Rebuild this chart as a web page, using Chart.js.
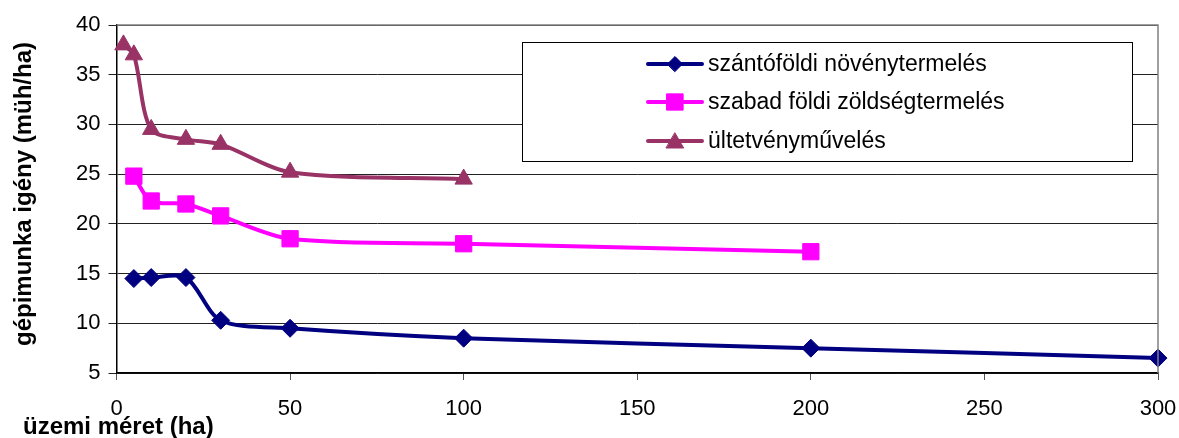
<!DOCTYPE html>
<html>
<head>
<meta charset="utf-8">
<script src="https://cdn.jsdelivr.net/npm/chart.js@4/dist/chart.umd.min.js"></script>
<style>
  html, body { margin: 0; padding: 0; background: #fff; }
  #wrap { width: 1179px; height: 438px; position: relative; }
</style>
</head>
<body>
<div id="wrap"><canvas id="chart" width="1179" height="438"></canvas></div>
<script>
// data
const szantoX = [5, 10, 20, 30, 50, 100, 200, 300];
const szantoY = [14.5, 14.6, 14.6, 10.3, 9.5, 8.5, 7.5, 6.5];
const zoldsegX = [5, 10, 20, 30, 50, 100, 200];
const zoldsegY = [24.8, 22.3, 22.0, 20.8, 18.5, 18.0, 17.2];
const ultetvX = [2, 5, 10, 20, 30, 50, 100];
const ultetvY = [38, 37, 29.5, 28.5, 28, 25.2, 24.5];
const seriesLabels = ['szántóföldi növénytermelés', 'szabad földi zöldségtermelés', 'ültetvényművelés'];
const xTitle = 'üzemi méret (ha)';
const yTitle = 'gépimunka igény (müh/ha)';

const FONT = '"Liberation Sans", Arial, sans-serif';

function pts(xs, ys) {
    return xs.map((x, i) => ({ x: x, y: ys[i] }));
}

// draws the boxed legend, plot border and the axis titles
const extras = {
    id: 'extras',
    afterDraw(chart) {
        const ctx = chart.ctx;
        const a = chart.chartArea;
        ctx.save();

        // plot area border (top / right)
        ctx.strokeStyle = '#808080';
        ctx.lineWidth = 1.5;
        ctx.beginPath();
        ctx.moveTo(a.left, a.top);
        ctx.lineTo(a.right, a.top);
        ctx.lineTo(a.right, a.bottom);
        ctx.stroke();

        // legend box
        const bx = 522.5, by = 42.5, bw = 610, bh = 119;
        ctx.fillStyle = '#fff';
        ctx.fillRect(bx, by, bw, bh);
        ctx.strokeStyle = '#000';
        ctx.lineWidth = 1;
        ctx.strokeRect(bx, by, bw, bh);

        const rowY = [64, 102, 141];
        const legendRadius = [7.5, 11.5, 10];
        chart.data.datasets.forEach((ds, i) => {
            const y = rowY[i];
            ctx.strokeStyle = ds.borderColor;
            ctx.lineWidth = 4;
            ctx.lineCap = 'round';
            ctx.beginPath();
            ctx.moveTo(648, y);
            ctx.lineTo(702, y);
            ctx.stroke();
            ctx.fillStyle = ds.backgroundColor;
            ctx.strokeStyle = ds.borderColor;
            ctx.lineWidth = 1;
            Chart.helpers.drawPoint(ctx, {
                pointStyle: ds.pointStyle,
                radius: legendRadius[i],
                rotation: 0,
                borderWidth: 1
            }, 675, ds.pointStyle === 'triangle' ? y + 2 : y);
            ctx.fillStyle = '#000';
            ctx.font = '23px ' + FONT;
            ctx.textAlign = 'left';
            ctx.textBaseline = 'middle';
            ctx.fillText(ds.label, 708, y + 1);
        });

        // axis titles
        ctx.fillStyle = '#000';
        ctx.font = 'bold 24px ' + FONT;
        ctx.textAlign = 'left';
        ctx.textBaseline = 'middle';
        ctx.fillText(xTitle, 23, 427);

        ctx.translate(24, 194);
        ctx.rotate(-Math.PI / 2);
        ctx.textAlign = 'center';
        ctx.fillText(yTitle, 0, 0);
        ctx.restore();
    }
};

const lineBase = {
    borderWidth: 4,
    tension: 0.3,
    cubicInterpolationMode: 'default',
    clip: false,
    pointBorderWidth: 1,
    pointHoverRadius: 9
};

new Chart(document.getElementById('chart'), {
    type: 'line',
    data: {
        datasets: [
            Object.assign({}, lineBase, {
                label: seriesLabels[0],
                data: pts(szantoX, szantoY),
                borderColor: '#000080',
                backgroundColor: '#000080',
                pointStyle: 'rectRot',
                pointRadius: 9
            }),
            Object.assign({}, lineBase, {
                label: seriesLabels[1],
                data: pts(zoldsegX, zoldsegY),
                borderColor: '#FF00FF',
                backgroundColor: '#FF00FF',
                pointStyle: 'rect',
                pointRadius: 11.5
            }),
            Object.assign({}, lineBase, {
                label: seriesLabels[2],
                data: pts(ultetvX, ultetvY),
                borderColor: '#993366',
                backgroundColor: '#993366',
                pointStyle: 'triangle',
                pointRadius: 10
            })
        ]
    },
    options: {
        responsive: false,
        animation: false,
        layout: { padding: { top: 25, right: 21, left: 0, bottom: 0 } },
        plugins: {
            legend: { display: false },
            tooltip: { enabled: false }
        },
        scales: {
            x: {
                type: 'linear',
                min: 0,
                max: 300,
                afterFit: s => { s.height = 65; s.paddingLeft = 0; s.paddingRight = 0; },
                ticks: {
                    stepSize: 50,
                    color: '#000',
                    padding: 16,
                    maxRotation: 0,
                    font: { family: FONT, size: 22 }
                },
                grid: { drawOnChartArea: false, drawTicks: true, tickLength: 7, color: '#555', lineWidth: 1 },
                border: { color: '#000', width: 1.5 }
            },
            y: {
                min: 5,
                max: 40,
                afterFit: s => { s.width = 116.5; },
                ticks: {
                    stepSize: 5,
                    color: '#000',
                    padding: 8,
                    font: { family: FONT, size: 22 }
                },
                grid: { color: '#222', lineWidth: 1, tickLength: 8 },
                border: { color: '#000', width: 1.5 }
            }
        }
    },
    plugins: [extras]
});
</script>
</body>
</html>
